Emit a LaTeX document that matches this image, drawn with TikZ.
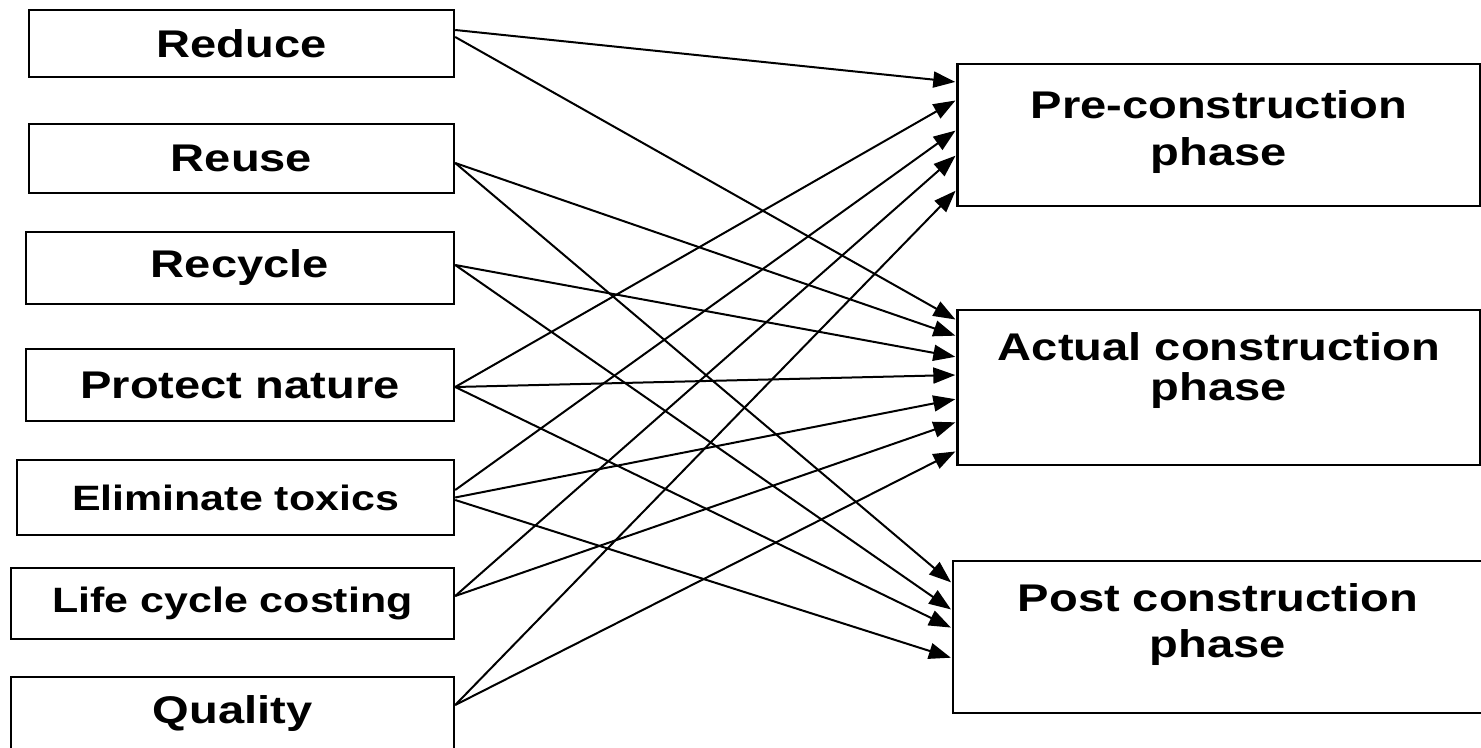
\documentclass[tikz,border=0pt]{standalone}
\usepackage{fontspec}
\newfontfamily\diagfont{Liberation Sans}[FakeStretch=1.22]
\usetikzlibrary{calc,arrows.meta}

\tikzset{
  actionbox/.style={draw, line width=1.2pt, inner sep=0pt,
    font=\diagfont\bfseries\fontsize{19.3}{23}\selectfont},
  smallbox/.style={actionbox, font=\diagfont\bfseries\fontsize{17.6}{21}\selectfont},
  phasebox/.style={draw, line width=1.2pt, inner sep=0pt},
  phasetext/.style={align=center, inner sep=0pt},
  link/.style={line width=1pt, -{Triangle[length=11pt,width=8pt]}, shorten >=0.5pt}
}

\begin{document}
\begin{tikzpicture}[x=0.5pt,y=-0.5pt]
\useasboundingbox (0,0) rectangle (1481,748);
% left column
\node[actionbox, minimum width=212.5pt, minimum height=33.5pt] (reduce) at (241.5,43.5) {Reduce};
\node[actionbox, minimum width=212.5pt, minimum height=34.5pt] (reuse) at (241.5,158.5) {Reuse};
\node[actionbox, minimum width=214pt, minimum height=36pt] (recycle) at (240,268) {Recycle};
\node[actionbox, minimum width=214pt, minimum height=36pt] (protect) at (240,385) {Protect nature};
\node[smallbox, minimum width=218.5pt, minimum height=37.5pt] (toxics) at (235.5,497.5) {Eliminate toxics};
\node[smallbox, minimum width=221.5pt, minimum height=35.5pt] (costing) at (232.5,603.5) {Life cycle costing};
\node[actionbox, minimum width=221.5pt, minimum height=36.5pt] (quality) at (232.5,713.5) {Quality};

% right column
\node[phasebox, minimum width=261.5pt, minimum height=71pt,
  label={[phasetext, yshift=1.5pt, font=\diagfont\bfseries\fontsize{19.3}{23.5}\selectfont]center:{Pre-construction\\phase}}]
  (pre) at (1219,135) {};
\node[phasebox, minimum width=261.5pt, minimum height=77.5pt,
  label={[phasetext, yshift=8.5pt, font=\diagfont\bfseries\fontsize{19.3}{20}\selectfont]center:{Actual construction\\phase}}]
  (actual) at (1219,387.5) {};
\node[phasebox, minimum width=265pt, minimum height=76pt,
  label={[phasetext, yshift=6pt, font=\diagfont\bfseries\fontsize{19.3}{23}\selectfont]center:{Post construction\\phase}}]
  (post) at (1218,637) {};

%% into pre-construction
\foreach \src/\sy/\dy in {reduce/-13.5/-53, protect/2/-35, toxics/-7.5/-5, costing/-7.5/20, quality/-8.5/55}
  \draw[link] ($(\src.east)+(0,\sy)$) -- ($(pre.west)+(0,\dy)$);

%% into actual construction
\foreach \src/\sy/\dy in {reduce/-6.5/-67.5, reuse/4.5/-51.5, recycle/-3/-30.5, protect/2/-12.5,
    toxics/0/11.5, costing/-7.5/34.5, quality/-8.5/63.5}
  \draw[link] ($(\src.east)+(0,\sy)$) -- ($(actual.west)+(0,\dy)$);

%% into post construction
\foreach \src/\sy/\dy in {reuse/4.5/-54, recycle/-3/-27, protect/2/-9, toxics/2.5/21}
  \draw[link] ($(\src.east)+(0,\sy)$) -- ($(post.west)+(0,\dy)$);
\end{tikzpicture}
\end{document}
